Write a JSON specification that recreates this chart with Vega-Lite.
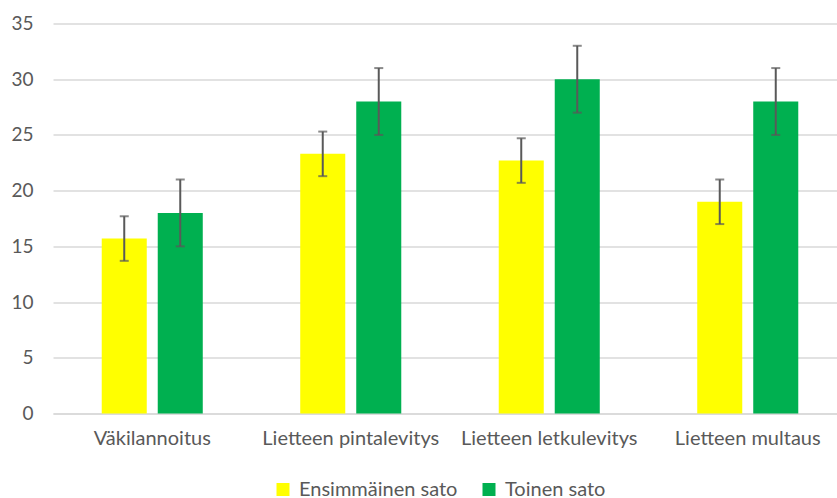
{
  "$schema": "https://vega.github.io/schema/vega-lite/v6.json",
  "width": 794,
  "height": 390,
  "autosize": {"type": "none"},
  "padding": {"left": 53, "top": 23.5, "right": 0, "bottom": 84.5},
  "background": "white",
  "config": {
    "font": "Lato",
    "view": {"stroke": null},
    "axis": {"labelFont": "Lato", "labelColor": "#595959", "labelFontSize": 20}
  },
  "data": {
    "values": [
      {"kasittely": "Väkilannoitus", "sato": "Ensimmäinen sato", "arvo": 15.7, "ala": 13.7, "yla": 17.7},
      {"kasittely": "Väkilannoitus", "sato": "Toinen sato", "arvo": 18.0, "ala": 15.0, "yla": 21.0},
      {"kasittely": "Lietteen pintalevitys", "sato": "Ensimmäinen sato", "arvo": 23.3, "ala": 21.3, "yla": 25.3},
      {"kasittely": "Lietteen pintalevitys", "sato": "Toinen sato", "arvo": 28.0, "ala": 25.0, "yla": 31.0},
      {"kasittely": "Lietteen letkulevitys", "sato": "Ensimmäinen sato", "arvo": 22.7, "ala": 20.7, "yla": 24.7},
      {"kasittely": "Lietteen letkulevitys", "sato": "Toinen sato", "arvo": 30.0, "ala": 27.0, "yla": 33.0},
      {"kasittely": "Lietteen multaus", "sato": "Ensimmäinen sato", "arvo": 19.0, "ala": 17.0, "yla": 21.0},
      {"kasittely": "Lietteen multaus", "sato": "Toinen sato", "arvo": 28.0, "ala": 25.0, "yla": 31.0}
    ]
  },
  "encoding": {
    "x": {
      "field": "kasittely", "type": "nominal", "sort": null, "title": null,
      "scale": {"paddingInner": 0.491, "paddingOuter": 0.2455},
      "axis": {"labelAngle": 0, "ticks": false, "domain": true, "domainColor": "#d9d9d9", "domainWidth": 1.5, "labelPadding": 15, "grid": false}
    },
    "xOffset": {
      "field": "sato", "type": "nominal", "sort": ["Ensimmäinen sato", "Toinen sato"],
      "scale": {"paddingInner": 0.196, "paddingOuter": 0}
    }
  },
  "layer": [
    {
      "mark": {"type": "bar"},
      "encoding": {
        "y": {
          "field": "arvo", "type": "quantitative", "title": null,
          "scale": {"domain": [0, 35], "nice": false},
          "axis": {"values": [0, 5, 10, 15, 20, 25, 30, 35], "domain": false, "ticks": false, "labelPadding": 20, "labelFontSize": 19, "gridColor": "#d9d9d9", "gridWidth": 1.5}
        },
        "color": {
          "field": "sato", "type": "nominal", "title": null,
          "scale": {"domain": ["Ensimmäinen sato", "Toinen sato"], "range": ["#FFFF00", "#00B050"]},
          "legend": {
            "orient": "none", "legendX": 220, "legendY": 456, "direction": "horizontal", "columns": 2,
            "symbolType": "square", "symbolSize": 169, "symbolStrokeWidth": 0,
            "labelFont": "Lato", "labelFontSize": 20, "labelColor": "#595959", "labelOffset": 6,
            "columnPadding": 21, "padding": 0
          }
        }
      }
    },
    {
      "mark": {"type": "rule", "color": "#595959", "strokeWidth": 2},
      "encoding": {
        "y": {"field": "ala", "type": "quantitative"},
        "y2": {"field": "yla"}
      }
    },
    {
      "mark": {"type": "tick", "color": "#595959", "thickness": 2, "size": 9},
      "encoding": {"y": {"field": "ala", "type": "quantitative"}}
    },
    {
      "mark": {"type": "tick", "color": "#595959", "thickness": 2, "size": 9},
      "encoding": {"y": {"field": "yla", "type": "quantitative"}}
    }
  ]
}
